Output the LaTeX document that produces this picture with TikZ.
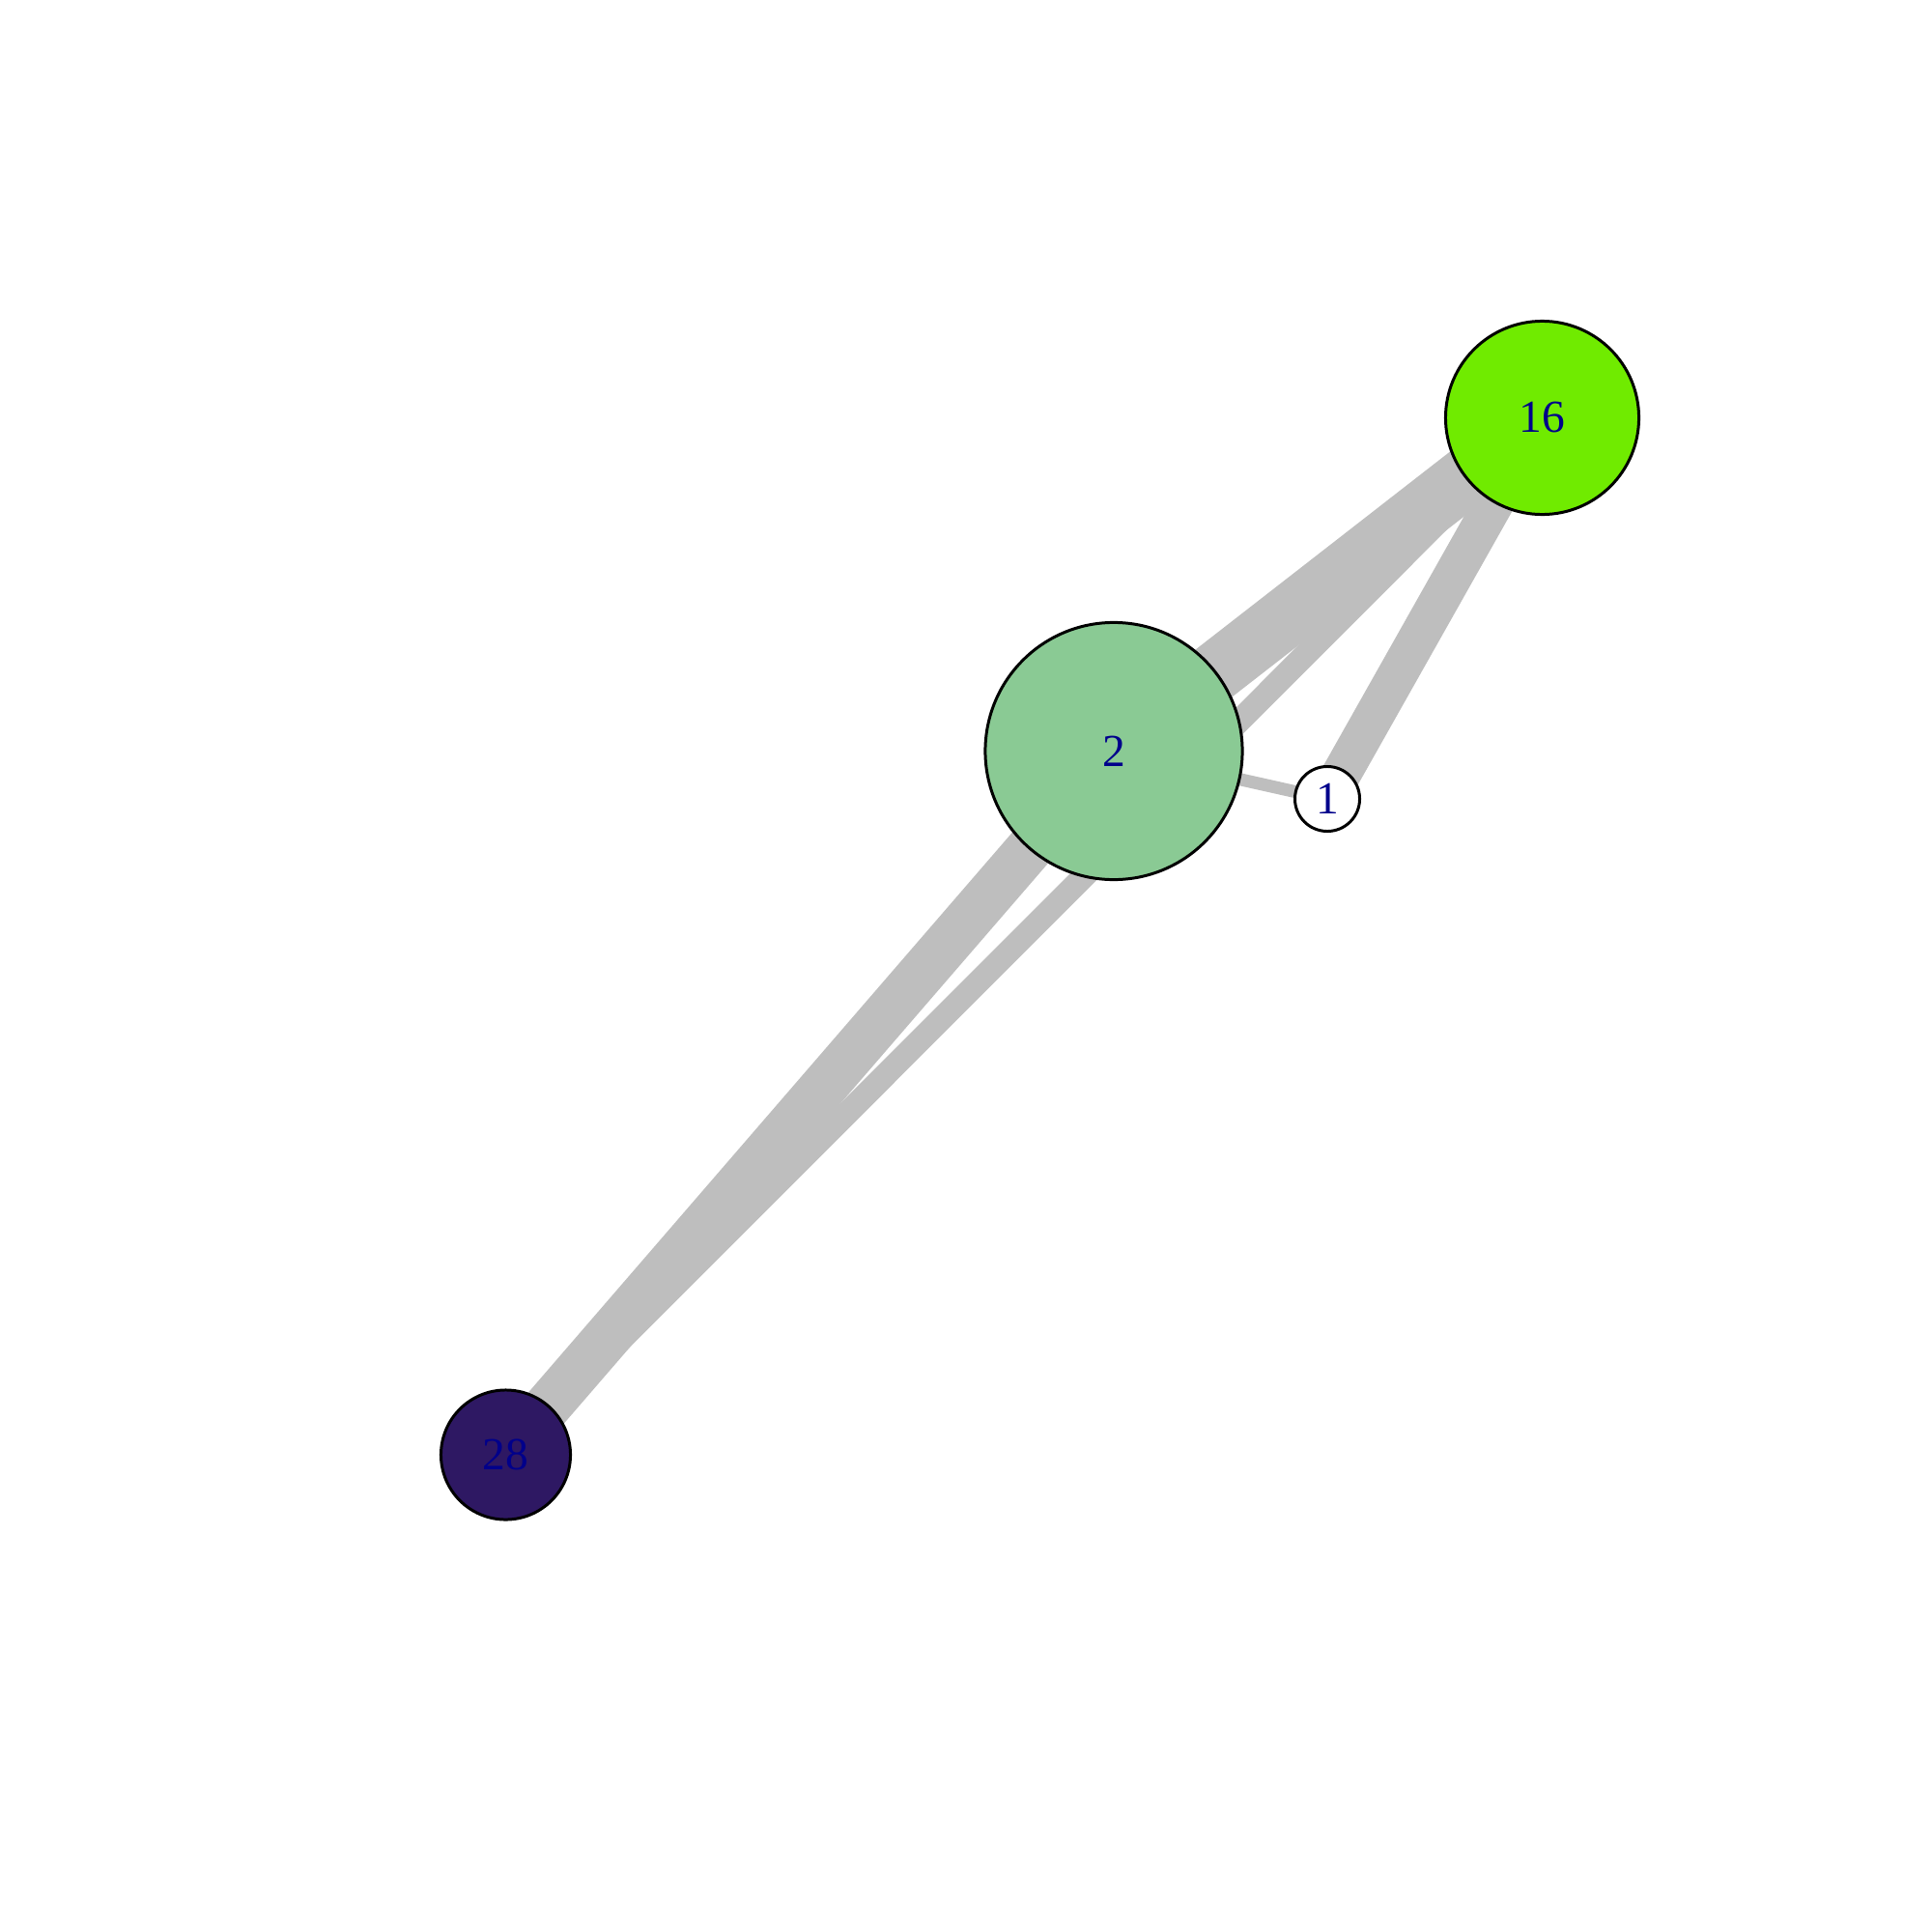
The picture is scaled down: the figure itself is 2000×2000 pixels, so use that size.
\documentclass[tikz,border=0pt]{standalone}
\usepackage{fontspec}
\setmainfont{Liberation Serif}
\usetikzlibrary{backgrounds}
\definecolor{edgegray}{HTML}{BEBEBE}
\definecolor{lblue}{HTML}{00008B}
\definecolor{cxvi}{RGB}{112,235,0}
\definecolor{cii}{RGB}{138,202,148}
\definecolor{cxxviii}{RGB}{46,24,99}
\begin{document}
\begin{tikzpicture}[x=0.01cm,y=-0.01cm,
  vertex/.style={circle, draw=black, line width=0.85pt, inner sep=0pt,
    text=lblue, font=\fontsize{13.5}{14}\selectfont},
  edge/.style={draw=edgegray, line cap=butt}]
\useasboundingbox (0,0) rectangle (2000,2000);
\node[vertex, fill=cxvi, minimum size=2.0cm] (n16) at (1596.5,432.5) {16};
\node[vertex, fill=cii, minimum size=2.66cm] (n2) at (1153,777.5) {2};
\node[vertex, fill=white, minimum size=0.67cm] (n1) at (1374,827) {1};
\node[vertex, fill=cxxviii, minimum size=1.34cm] (n28) at (523.5,1506) {28};
\begin{scope}[on background layer]
\draw[edge, line width=13.9pt] (n28.center) -- (n2.center);
\draw[edge, line width=6.9pt] (n28.center) -- (n16.center);
\draw[edge, line width=17.6pt] (n2.center) -- (n16.center);
\draw[edge, line width=11.6pt] (n1.center) -- (n16.center);
\draw[edge, line width=3.7pt] (n2.center) -- (n1.center);
\end{scope}
\end{tikzpicture}
\end{document}
